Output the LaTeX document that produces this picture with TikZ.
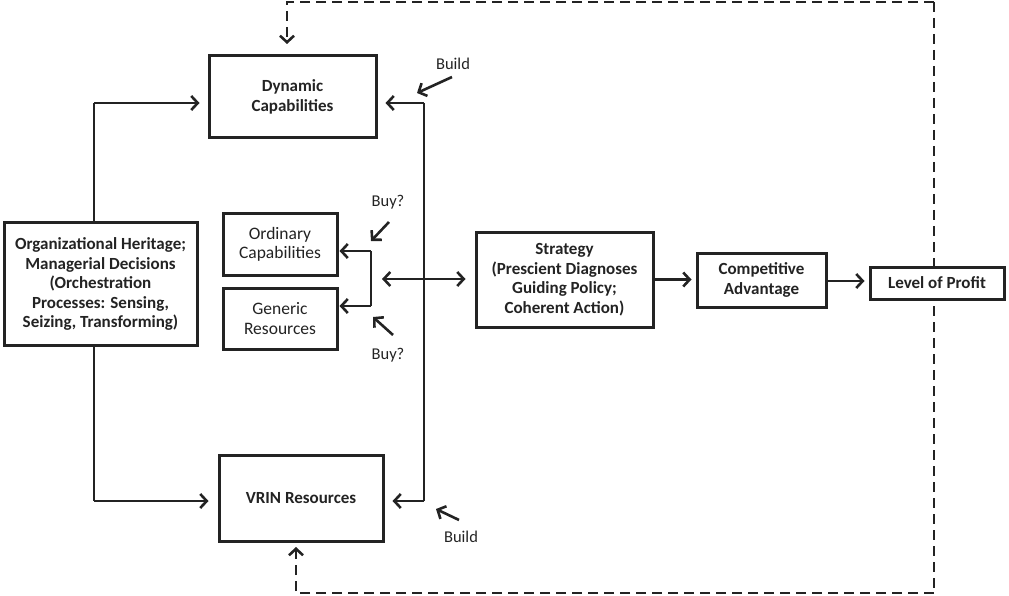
\documentclass[tikz,border=0pt]{standalone}
\usepackage{fontspec}
\setmainfont{Carlito}
\usetikzlibrary{arrows.meta,calc}
\definecolor{ink}{RGB}{35,35,35}
\begin{document}
\begin{tikzpicture}[x=1pt,y=-1pt,
  box/.style={draw=ink,line width=3pt,fill=white,align=center,inner sep=2pt,
    font=\fontsize{17}{19.5}\selectfont\bfseries,text=ink},
  lightbox/.style={box,font=\fontsize{17.5}{19.5}\selectfont},
  lbl/.style={font=\fontsize{16.5}{18}\selectfont,text=ink,inner sep=1pt},
  conn/.style={draw=ink,line width=2.6pt},
  tip/.tip={Straight Barb[length=6.5pt,width=14pt,line width=2.6pt]},
  arr/.style={conn,-tip},
  darr/.style={conn,tip-tip},
  dsh/.style={draw=ink,line width=2.8pt,dash pattern=on 10pt off 6pt},
  dsharr/.style={dsh,-{Straight Barb[length=6.5pt,width=14pt,line width=2.6pt]}}
]
\useasboundingbox (0,0) rectangle (1009,596);

% dashed feedback loop (behind boxes)
\coordinate (TR) at (934,2);
\coordinate (BR) at (934,593);
\coordinate (TL) at (287,2);
\coordinate (BL) at (296,593);
\coordinate (TLend) at (287,44);
\coordinate (BLend) at (296,547);
\draw[dsh] (TR) -- (BR);
\draw[dsharr] (TR) -- (TL) -- (TLend);
\draw[dsharr] (BR) -- (BL) -- (BLend);

% connector end points
\coordinate (Ltop) at (94,103);
\coordinate (Lbot) at (94,501);
\coordinate (Rtop) at (424,103);
\coordinate (Rbot) at (424,501);
\coordinate (Btop) at (371,251);
\coordinate (Bbot) at (371,306);
\coordinate (D1) at (382,279);

% boxes
\node[box,minimum width=167pt,minimum height=82pt] (dyn) at (292.5,97) {Dynamic\\Capabilities};
\node[lightbox,minimum width=114pt,minimum height=61pt] (ord) at (280,244.5) {Ordinary\\Capabilities};
\node[lightbox,minimum width=114pt,minimum height=61pt] (gen) at (280,318.5) {Generic\\Resources};
\node[box,minimum width=164pt,minimum height=86pt] (vrin) at (301,498) {VRIN Resources};
\node[box,minimum width=177pt,minimum height=95pt] (strat) at (564.5,279.5) {Strategy\\(Prescient Diagnoses\\Guiding Policy;\\Coherent Action)};
\node[box,minimum width=129pt,minimum height=54pt] (ca) at (761.5,280) {Competitive\\Advantage};
\node[box,minimum width=134pt,minimum height=32pt] (lop) at (937,283) {Level of Profit};

% left trunk
\draw[conn] (Ltop) -- (Lbot);
\draw[arr,shorten >=8pt] (Ltop) -- (Ltop -| dyn.west);
\draw[arr,shorten >=9pt] (Lbot) -- (Lbot -| vrin.west);

% org box on top of trunk
\node[box,minimum width=193pt,minimum height=122pt] (org) at (100.5,284) {Organizational Heritage;\\Managerial Decisions\\(Orchestration\\Processes: Sensing,\\Seizing, Transforming)};

% right trunk
\draw[conn] (Rtop) -- (Rbot);
\draw[arr,shorten >=8pt] (Rtop) -- (Rtop -| dyn.east);
\draw[arr,shorten >=8pt] (Rbot) -- (Rbot -| vrin.east);

% bracket to ordinary/generic
\draw[conn] (Btop) -- (Bbot);
\draw[arr,shorten >=1pt] (Btop) -- (Btop -| ord.east);
\draw[arr,shorten >=1pt] (Bbot) -- (Bbot -| gen.east);

% double arrow to strategy
\draw[darr,shorten >=9pt] (D1) -- (D1 -| strat.west);

% main chain
\draw[arr,shorten >=4pt] (strat.east) -- (strat.east -| ca.west);
\draw[arr,shorten >=4pt] (ca.east |- 0,281) -- (lop.west |- 0,281);

% labels with small arrows
\node[lbl] (b1) at (453,64) {Build};
\coordinate (b1s) at (452,77);
\coordinate (b1e) at (417,93);
\draw[arr] (b1s) -- (b1e);

\node[lbl] (q1) at (388,202) {Buy?};
\coordinate (q1s) at (389,222);
\coordinate (q1e) at (371,241);
\draw[arr] (q1s) -- (q1e);

\node[lbl] (q2) at (388,355) {Buy?};
\coordinate (q2s) at (393,335);
\coordinate (q2e) at (373,317);
\draw[arr] (q2s) -- (q2e);

\node[lbl] (b2) at (461,537) {Build};
\coordinate (b2s) at (459,520);
\coordinate (b2e) at (436,509);
\draw[arr] (b2s) -- (b2e);
\end{tikzpicture}
\end{document}
